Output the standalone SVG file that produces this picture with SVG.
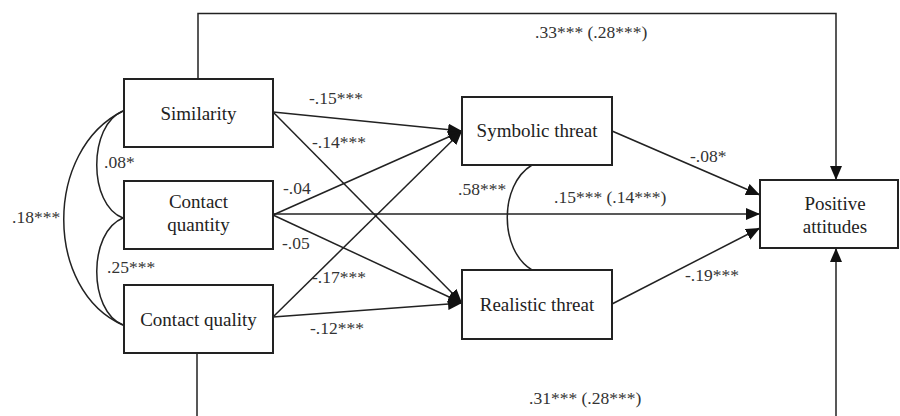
<svg xmlns="http://www.w3.org/2000/svg" width="900" height="416" viewBox="0 0 900 416">
<style>
.box{fill:#fff;stroke:#222;stroke-width:2}
.nt{font-family:'Liberation Serif','Times New Roman',serif;font-size:19px;fill:#222;text-anchor:middle}
.el{font-family:'Liberation Serif','Times New Roman',serif;font-size:17.5px;fill:#333}
.ln{fill:none;stroke:#222;stroke-width:1.5}
.ar{fill:none;stroke:#222;stroke-width:1.5;marker-end:url(#ah)}
</style>
<defs>
<marker id="ah" markerUnits="userSpaceOnUse" markerWidth="14" markerHeight="12" viewBox="0 0 14 12" refX="14" refY="6" orient="auto">
<path d="M0,0 L14,6 L0,12 Z" fill="#111"/>
</marker>
</defs>
<rect width="900" height="416" fill="#fff"/>
<g id="connectors">
<path class="ar" d="M198,79 V13.5 H836 V180"/>
<path class="ar" d="M197,353 V416 M836,416 V248"/>
<line class="ar" x1="273" y1="112" x2="462" y2="131"/>
<line class="ar" x1="273" y1="112" x2="462" y2="303"/>
<line class="ar" x1="273" y1="215" x2="462" y2="131"/>
<line class="ar" x1="273" y1="214" x2="760" y2="214"/>
<line class="ar" x1="273" y1="215" x2="462" y2="303"/>
<line class="ar" x1="273" y1="317" x2="462" y2="131"/>
<line class="ar" x1="273" y1="317" x2="462" y2="303"/>
<line class="ar" x1="612" y1="131" x2="760" y2="195"/>
<line class="ar" x1="612" y1="304" x2="760" y2="228"/>
<path class="ln" d="M123,111 C88,125 88,205 123,218"/>
<path class="ln" d="M123,218 C88,232 88,311 123,325"/>
<path class="ln" d="M123,111 C44,150 44,290 123,325"/>
<path class="ln" d="M532,165 C499,185 499,250 532,270"/>
</g>
<g id="labels">
<text class="el" x="309" y="104">-.15***</text>
<text class="el" x="312" y="148">-.14***</text>
<text class="el" x="104" y="168">.08*</text>
<text class="el" x="283" y="194">-.04</text>
<text class="el" x="12" y="223">.18***</text>
<text class="el" x="282" y="249">-.05</text>
<text class="el" x="107" y="273">.25***</text>
<text class="el" x="312" y="283">-.17***</text>
<text class="el" x="310" y="334">-.12***</text>
<text class="el" x="458" y="195">.58***</text>
<text class="el" x="554" y="203">.15*** (.14***)</text>
<text class="el" x="690" y="162">-.08*</text>
<text class="el" x="685" y="281">-.19***</text>
<text class="el" x="535" y="38">.33*** (.28***)</text>
<text class="el" x="529" y="404">.31*** (.28***)</text>
</g>
<g id="similarity">
<rect class="box" x="124" y="79" width="149" height="68"/>
<text class="nt" x="198.5" y="120">Similarity</text>
</g>
<g id="contact-quantity">
<rect class="box" x="124" y="181" width="149" height="68"/>
<text class="nt" x="198.5" y="208">Contact</text>
<text class="nt" x="198.5" y="231">quantity</text>
</g>
<g id="contact-quality">
<rect class="box" x="124" y="285" width="149" height="68"/>
<text class="nt" x="198.5" y="326">Contact quality</text>
</g>
<g id="symbolic-threat">
<rect class="box" x="462" y="97" width="150" height="68"/>
<text class="nt" x="537" y="137">Symbolic threat</text>
</g>
<g id="realistic-threat">
<rect class="box" x="462" y="270" width="150" height="69"/>
<text class="nt" x="537" y="311">Realistic threat</text>
</g>
<g id="positive-attitudes">
<rect class="box" x="760" y="180" width="138" height="68"/>
<text class="nt" x="835" y="210">Positive</text>
<text class="nt" x="835" y="233">attitudes</text>
</g>
</svg>
